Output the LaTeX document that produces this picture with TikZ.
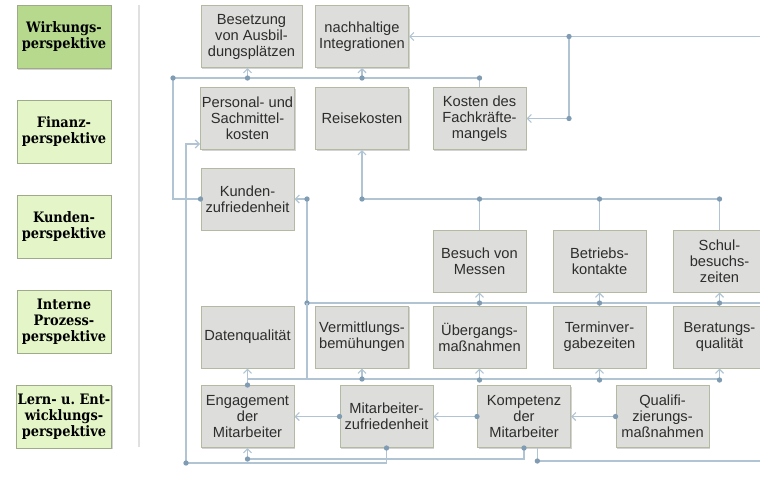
\documentclass[tikz,border=0pt]{standalone}
\usepackage{fontspec}
\setmainfont{Liberation Sans}
\newfontfamily\slabfont{DejaVu Serif Condensed}
\usetikzlibrary{arrows.meta,shadows}

\definecolor{boxfill}{RGB}{221,221,219}
\definecolor{boxline}{RGB}{180,186,162}
\definecolor{wirkfill}{RGB}{182,217,142}
\definecolor{perspfill}{RGB}{228,246,200}
\definecolor{perspline}{RGB}{158,170,138}
\definecolor{linkc}{RGB}{176,196,212}
\definecolor{dotc}{RGB}{128,156,178}
\definecolor{txtc}{RGB}{45,45,45}
\definecolor{sepc}{RGB}{224,224,224}

\tikzset{
  kpibox/.style={draw=boxline, fill=boxfill, line width=0.75pt,
    minimum width=69.75pt, minimum height=46.5pt, inner sep=1pt,
    align=center, text=txtc, font=\fontsize{11}{12}\selectfont,
    drop shadow={shadow xshift=0.8pt, shadow yshift=-1pt, opacity=0.35}},
  perspbox/.style={draw=perspline, fill=perspfill, line width=0.75pt,
    minimum width=70.5pt, minimum height=47.25pt, inner sep=1pt,
    align=center, text=black, font=\slabfont\bfseries\fontsize{10.8}{12}\selectfont,
    drop shadow={shadow xshift=0.8pt, shadow yshift=-1pt, opacity=0.35}},
  link/.style={draw=linkc, line width=0.9pt},
  arr/.style={link, -{Straight Barb[length=3pt, width=6pt]}},
  jdot/.style={circle, fill=dotc, inner sep=0pt, minimum size=4pt},
}

\begin{document}
\begin{tikzpicture}[x=0.75pt, y=-0.75pt]
  \useasboundingbox (0,0) rectangle (760,497);

  % perspectives
  \node[perspbox, fill=wirkfill] (wirk) at (64,37) {Wirkungs-\\perspektive};
  \node[perspbox] (fin) at (64,131.5) {Finanz-\\perspektive};
  \node[perspbox] (kund) at (64,226.5) {Kunden-\\perspektive};
  \node[perspbox] (proz) at (64,321.5) {Interne\\Prozess-\\perspektive};
  \node[perspbox] (lern) at (64,416.5) {Lern- u.\ Ent-\\wicklungs-\\perspektive};
  \draw[sepc, line width=1.5pt] (139,5) -- (139,447);

  % Wirkung
  \node[kpibox, minimum width=75.75pt] (bes) at (251.5,36.5) {Besetzung\\von Ausbil-\\dungsplätzen};
  \node[kpibox] (nach) at (362,36.5) {nachhaltige\\Integrationen};
  % Finanzen
  \node[kpibox] (pers) at (247.5,118.5) {Personal- und\\Sachmittel-\\kosten};
  \node[kpibox] (reis) at (362,118.5) {Reisekosten};
  \node[kpibox] (kost) at (479.5,118.5) {Kosten des\\Fachkräfte-\\mangels};
  % Kunden
  \node[kpibox] (kzuf) at (247.5,199) {Kunden-\\zufriedenheit};
  \node[kpibox] (mess) at (479.5,261) {Besuch von\\Messen};
  \node[kpibox] (betr) at (599.5,261) {Betriebs-\\kontakte};
  \node[kpibox] (schul) at (719.5,261) {Schul-\\besuchs-\\zeiten};
  % Prozesse
  \node[kpibox] (daten) at (247.5,337) {Datenqualität};
  \node[kpibox] (verm) at (362,337) {Vermittlungs-\\bemühungen};
  \node[kpibox] (ueber) at (479.5,337) {Übergangs-\\maßnahmen};
  \node[kpibox] (termin) at (599.5,337) {Terminver-\\gabezeiten};
  \node[kpibox] (berat) at (719.5,337) {Beratungs-\\qualität};
  % Lernen und Entwicklung
  \node[kpibox] (engag) at (247.5,416.5) {Engagement\\der\\Mitarbeiter};
  \node[kpibox] (mzuf) at (386.5,416.5) {Mitarbeiter-\\zufriedenheit};
  \node[kpibox] (komp) at (524,416.5) {Kompetenz\\der\\Mitarbeiter};
  \node[kpibox] (quali) at (662.5,416.5) {Qualifi-\\zierungs-\\maßnahmen};

  % Kundenzufriedenheit nach oben
  \draw[link] (kzuf.west) -| (173,78) -| (kost.north);
  \draw[arr] (pers |- 0,78) -- (pers |- bes.south);
  \draw[arr] (nach |- 0,78) -- (nach.south);
  \node[jdot] at (kzuf.west) {};
  \node[jdot] at (173,78) {};
  \node[jdot] at (pers |- 0,78) {};
  \node[jdot] at (nach |- 0,78) {};
  \node[jdot] at (kost |- 0,78) {};

  % von rechts
  \draw[arr] (nach.east -| 760,0) -- (nach.east);
  \draw[arr] (nach.east -| 569,0) |- (kost.east);
  \node[jdot] at (nach.east -| 569,0) {};
  \node[jdot] at (kost.east -| 569,0) {};

  % Mitarbeiterzufriedenheit -> Personal- und Sachmittelkosten
  \draw[arr] (mzuf.south) -- (mzuf.south |- 0,463) -| (186,144) -- (pers.west |- 0,144);
  \node[jdot] at (mzuf.south) {};
  \node[jdot] at (186,463) {};

  % Kompetenz -> Engagement
  \draw[arr] (komp.south) -- (komp.south |- 0,459) -| (engag.south);
  \draw[link] ([xshift=10pt]komp.south) -- ++(0,13) -- (760,461);
  \node[jdot] at (komp.south) {};
  \node[jdot] at (engag.south |- 0,459) {};
  \node[jdot] at ([xshift=10pt]komp.south |- 0,461) {};

  % Kunden -> Reisekosten
  \draw[arr] (schul.north |- 0,199) -- (reis.south |- 0,199) -- (reis.south);
  \draw[link] (mess.north) -- (mess.north |- 0,199);
  \draw[link] (betr.north) -- (betr.north |- 0,199);
  \draw[link] (schul.north) -- (schul.north |- 0,199);
  \node[jdot] at (reis.south |- 0,199) {};
  \node[jdot] at (mess.north |- 0,199) {};
  \node[jdot] at (betr.north |- 0,199) {};
  \node[jdot] at (schul.north |- 0,199) {};

  % Prozesse -> Kunden
  \draw[arr] (760,303) -| (307,199) -- (kzuf.east);
  \draw[arr] (ueber.north) -- (mess.south);
  \draw[arr] (termin.north) -- (betr.south);
  \draw[arr] (berat.north) -- (schul.south);
  \node[jdot] at (307,303) {};
  \node[jdot] at (307,199) {};
  \node[jdot] at (mess.south |- 0,303) {};
  \node[jdot] at (betr.south |- 0,303) {};
  \node[jdot] at (schul.south |- 0,303) {};

  % Lernen -> Prozesse
  \draw[link] (engag.north |- 0,379) -- (berat.south |- 0,379);
  \draw[link] (307,379) -- (307,303);
  \draw[arr] (verm.south |- 0,379) -- (verm.south);
  \draw[arr] (ueber.south |- 0,379) -- (ueber.south);
  \draw[arr] (termin.south |- 0,379) -- (termin.south);
  \draw[arr] (berat.south |- 0,379) -- (berat.south);
  \draw[arr] (engag.north) -- (daten.south);
  \node[jdot] at (verm.south |- 0,379) {};
  \node[jdot] at (ueber.south |- 0,380) {};
  \node[jdot] at (termin.south |- 0,380) {};
  \node[jdot] at (berat.south |- 0,380) {};
  \node[jdot] at (engag.north) {};

  % Lernen untereinander
  \draw[arr] (quali.west) -- (komp.east);
  \draw[arr] (komp.west) -- (mzuf.east);
  \draw[arr] (mzuf.west) -- (engag.east);
  \node[jdot] at (quali.west) {};
  \node[jdot] at (komp.west) {};
  \node[jdot] at (mzuf.west) {};
\end{tikzpicture}
\end{document}
